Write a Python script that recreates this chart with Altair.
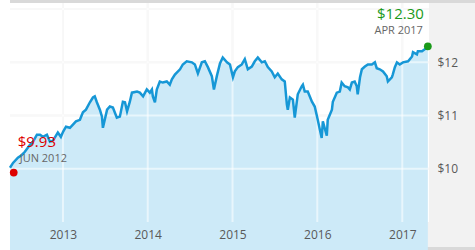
import altair as alt
import pandas as pd

# ---- data ----
dates = [
    "2012-05-18", "2012-05-31", "2012-06-21", "2012-07-08", "2012-07-21", "2012-08-12",
    "2012-08-25", "2012-09-11", "2012-09-24", "2012-10-07", "2012-10-24", "2012-11-06",
    "2012-11-19", "2012-12-10", "2012-12-23", "2013-01-02", "2013-01-14", "2013-01-31",
    "2013-02-13", "2013-02-26", "2013-03-15", "2013-03-28", "2013-04-10", "2013-04-27",
    "2013-05-10", "2013-05-18", "2013-05-27", "2013-06-09", "2013-06-18", "2013-06-22",
    "2013-06-30", "2013-07-10", "2013-07-22", "2013-08-04", "2013-08-21", "2013-09-03",
    "2013-09-16", "2013-09-25", "2013-10-04", "2013-10-16", "2013-10-25", "2013-11-16",
    "2013-11-28", "2013-12-12", "2013-12-28", "2014-01-10", "2014-01-19", "2014-01-23",
    "2014-02-01", "2014-02-09", "2014-02-22", "2014-03-07", "2014-03-24", "2014-04-06",
    "2014-04-15", "2014-04-28", "2014-05-20", "2014-06-01", "2014-06-18", "2014-07-10",
    "2014-07-23", "2014-08-05", "2014-08-22", "2014-09-04", "2014-09-17", "2014-10-04",
    "2014-10-13", "2014-10-26", "2014-11-08", "2014-11-20", "2014-12-08", "2014-12-21",
    "2015-01-03", "2015-01-11", "2015-01-24", "2015-02-10", "2015-02-23", "2015-03-08",
    "2015-03-25", "2015-04-07", "2015-04-20", "2015-05-07", "2015-05-20", "2015-06-02",
    "2015-06-19", "2015-07-02", "2015-07-15", "2015-08-01", "2015-08-14", "2015-08-23",
    "2015-08-27", "2015-09-05", "2015-09-18", "2015-09-26", "2015-10-09", "2015-10-26",
    "2015-10-31", "2015-11-08", "2015-11-21", "2015-12-09", "2015-12-21", "2016-01-03",
    "2016-01-12", "2016-01-20", "2016-01-25", "2016-02-11", "2016-02-15", "2016-03-04",
    "2016-03-08", "2016-03-25", "2016-04-07", "2016-04-15", "2016-04-28", "2016-05-12",
    "2016-05-20", "2016-05-29", "2016-06-10", "2016-06-19", "2016-06-23", "2016-07-03",
    "2016-07-11", "2016-07-24", "2016-08-06", "2016-08-23", "2016-09-05", "2016-09-13",
    "2016-09-26", "2016-10-10", "2016-10-26", "2016-10-31", "2016-11-17", "2016-11-21",
    "2016-11-30", "2016-12-09", "2016-12-21", "2017-01-04", "2017-01-26", "2017-02-12",
    "2017-02-16", "2017-03-05", "2017-03-09", "2017-03-27", "2017-04-09", "2017-04-21",
]
prices = [
    10.02, 10.11, 10.21, 10.26, 10.32, 10.45,
    10.51, 10.64, 10.64, 10.60, 10.64, 10.51,
    10.53, 10.68, 10.60, 10.70, 10.79, 10.77,
    10.83, 10.89, 10.92, 11.06, 11.11, 11.25,
    11.34, 11.36, 11.25, 11.11, 10.98, 10.77,
    10.92, 11.11, 11.17, 11.15, 10.96, 10.98,
    11.26, 11.25, 11.08, 11.26, 11.43, 11.45,
    11.43, 11.36, 11.49, 11.43, 11.49, 11.36,
    11.25, 11.49, 11.64, 11.62, 11.64, 11.58,
    11.68, 11.77, 11.87, 11.96, 12.02, 12.00,
    11.96, 11.79, 12.00, 12.02, 11.91, 11.74,
    11.49, 11.75, 11.98, 12.09, 12.00, 11.96,
    11.72, 11.83, 11.91, 11.96, 12.06, 11.87,
    11.92, 12.02, 12.09, 12.00, 12.02, 11.91,
    11.83, 11.72, 11.79, 11.68, 11.64, 11.21,
    11.11, 11.34, 11.30, 10.96, 11.40, 11.55,
    11.58, 11.45, 11.45, 11.26, 11.17, 10.92,
    10.74, 10.58, 10.89, 10.62, 10.92, 11.11,
    11.26, 11.43, 11.45, 11.62, 11.55, 11.53,
    11.49, 11.62, 11.64, 11.55, 11.40, 11.72,
    11.87, 11.92, 11.96, 11.96, 12.00, 11.89,
    11.87, 11.83, 11.74, 11.64, 11.72, 11.77,
    11.91, 12.00, 11.96, 12.00, 12.02, 12.11,
    12.19, 12.15, 12.21, 12.21, 12.25, 12.28,
]

start_date, start_price, start_label, start_sub = "2012-06-03", 9.93, "$9.93", "JUN 2012"
end_date, end_price, end_label, end_sub = "2017-04-21", 12.30, "$12.30", "APR 2017"

year_ticks = [2013, 2014, 2015, 2016, 2017]
price_ticks = [10, 11, 12]
grid_prices = [10, 11, 12, 13]

# ---- layout ----
W, H = 419, 219
LINE = "#1697d6"
FILL = "#cdeaf8"
PANEL = "#f2f2f2"
BAR = "#d9d9d9"
RED = "#dd0000"
GREEN = "#1a9a1a"
FONT = "Open Sans"

df = pd.DataFrame({"date": dates, "price": prices})
start_df = pd.DataFrame({"date": [start_date], "price": [start_price]})
end_df = pd.DataFrame({"date": [end_date], "price": [end_price]})
vgrid_df = pd.DataFrame({"date": [f"{y}-01-01" for y in year_ticks]})
hgrid_df = pd.DataFrame({"price": grid_prices})
one = pd.DataFrame({"k": [0]})

xscale = alt.Scale(
    type="utc",
    domain=[alt.DateTime(year=2012, month=5, date=18, utc=True),
            alt.DateTime(year=2017, month=4, date=26, utc=True)],
)
yscale = alt.Scale(domain=[9, 13.115], zero=False, nice=False)

x_axis = alt.Axis(
    title=None, orient="bottom", grid=False, ticks=False, domain=False,
    values=[alt.DateTime(year=y, month=1, date=1, utc=True) for y in year_ticks],
    format="%Y", formatType="utc", labelPadding=7, labelFontSize=12,
    labelColor="#595959", labelFont=FONT, zindex=1,
)
y_axis = alt.Axis(
    title=None, orient="right", grid=False, ticks=False, domain=False,
    values=price_ticks, labelExpr="'$' + datum.value", labelPadding=8,
    labelFontSize=12, labelColor="#595959", labelFont=FONT, zindex=1,
)

X = alt.X("date:T", scale=xscale, axis=x_axis)
Y = alt.Y("price:Q", scale=yscale, axis=y_axis)

def rect(x, x2, y, y2, color):
    return alt.Chart(one).mark_rect(color=color).encode(
        x=alt.value(x), x2=alt.value(x2), y=alt.value(y), y2=alt.value(y2)
    )

panels = [
    rect(W, W + 46, 0, H + 25, PANEL),
    rect(0, W + 46, H, H + 25, PANEL),
    rect(0, W + 46, -3, 0, BAR),
    rect(0, W + 46, H + 25, H + 28, BAR),
]

hgrid_under = alt.Chart(hgrid_df).mark_rule(color="#efefef", strokeWidth=2).encode(y=Y)
vgrid_under = alt.Chart(vgrid_df).mark_rule(color="#efefef", strokeWidth=2).encode(x=X)

area = alt.Chart(df).mark_area(color=FILL, opacity=1).encode(
    x=X, y=Y, y2=alt.value(H)
)

hgrid_over = alt.Chart(hgrid_df).mark_rule(color="#ffffff", strokeWidth=2, opacity=0.55).encode(y=Y)
vgrid_over = alt.Chart(vgrid_df).mark_rule(color="#ffffff", strokeWidth=2, opacity=0.55).encode(x=X)

line = alt.Chart(df).mark_line(color=LINE, strokeWidth=2.5).encode(x=X, y=Y)

start_dot = alt.Chart(start_df).mark_circle(color=RED, size=60, opacity=1).encode(x=X, y=Y)
end_dot = alt.Chart(end_df).mark_circle(color=GREEN, size=60, opacity=1).encode(x=X, y=Y)

start_txt = alt.Chart(start_df).mark_text(
    text=start_label, color=RED, font=FONT, fontSize=15, align="left",
    baseline="alphabetic", dx=4, dy=-26,
).encode(x=X, y=Y)
start_sub_txt = alt.Chart(start_df).mark_text(
    text=start_sub, color="#666666", font=FONT, fontSize=11, align="left",
    baseline="alphabetic", dx=6, dy=-11,
).encode(x=X, y=Y)
end_txt = alt.Chart(end_df).mark_text(
    text=end_label, color=GREEN, font=FONT, fontSize=15, align="right",
    baseline="alphabetic", dx=-4, dy=-27,
).encode(x=X, y=Y)
end_sub_txt = alt.Chart(end_df).mark_text(
    text=end_sub, color="#666666", font=FONT, fontSize=11, align="right",
    baseline="alphabetic", dx=-5, dy=-12,
).encode(x=X, y=Y)

chart = alt.layer(
    *panels, hgrid_under, vgrid_under, area, hgrid_over, vgrid_over, line,
    start_dot, end_dot, start_txt, start_sub_txt, end_txt, end_sub_txt,
).properties(
    width=W, height=H,
    padding={"left": 10, "top": 3, "right": 46, "bottom": 28},
    autosize=alt.AutoSizeParams(type="none"),
    background="white",
).configure_view(stroke=None)

chart.save("out.html", embed_options={"renderer": "svg", "actions": False})
